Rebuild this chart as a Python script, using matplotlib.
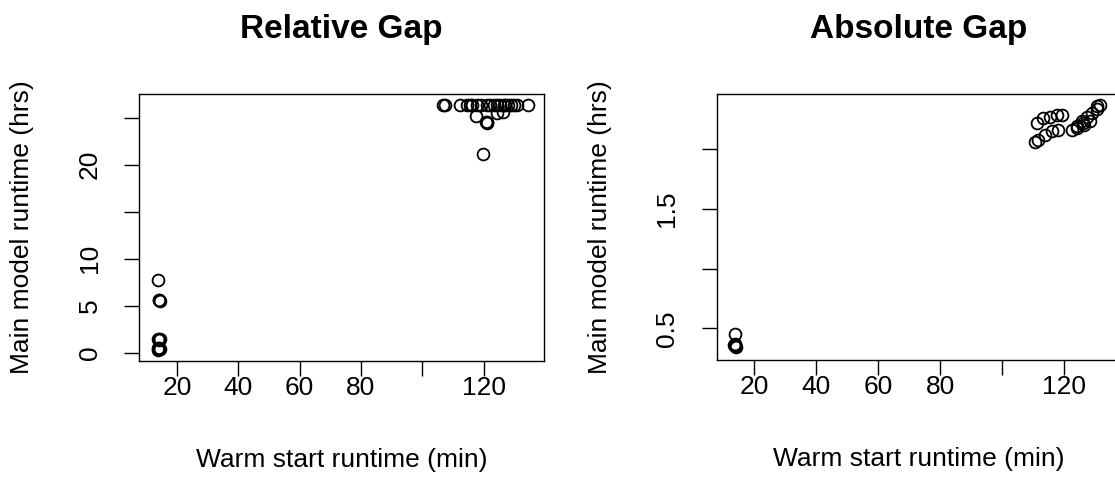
import matplotlib
matplotlib.use("Agg")
import matplotlib.pyplot as plt

plt.rcParams['font.family'] = ['Liberation Sans', 'DejaVu Sans']

# relative gap panel: warm start (min) vs main model runtime (hrs)
rel_x = [13.8, 14.2, 14.0, 14.3, 13.7, 14.1, 14.4, 13.9, 14.2, 14.0, 13.8, 14.3,
         106.6, 107.4, 112.3, 114.6, 115.4, 116.2, 117.9, 119.0, 121.0, 122.0,
         123.5, 124.5, 125.5, 126.5, 127.0, 128.0, 129.0, 130.0, 131.0, 134.5,
         117.6, 120.8, 121.0, 121.2, 124.3, 126.4, 119.9]
rel_y = [7.7, 5.6, 5.6, 5.5, 1.5, 1.4, 1.5, 0.5, 0.4, 0.5, 0.3, 0.4,
         26.3, 26.3, 26.3, 26.3, 26.3, 26.3, 26.3, 26.3, 26.3, 26.3,
         26.3, 26.3, 26.3, 26.3, 26.3, 26.3, 26.3, 26.3, 26.3, 26.3,
         25.2, 24.5, 24.4, 24.5, 25.5, 25.6, 21.1]

# absolute gap panel
abs_x = [13.8, 13.6, 13.9, 14.1, 13.7,
         111.1, 113.2, 115.4, 117.5, 119.2,
         110.5, 111.6, 113.8, 115.9, 118.1,
         122.4, 124.0, 125.6, 127.2, 128.8, 130.5, 131.5,
         124.0, 126.1, 128.3, 126.3, 130.7]
abs_y = [0.45, 0.36, 0.35, 0.34, 0.37,
         2.22, 2.26, 2.27, 2.29, 2.29,
         2.06, 2.08, 2.12, 2.15, 2.16,
         2.16, 2.19, 2.24, 2.27, 2.30, 2.34, 2.37,
         2.18, 2.22, 2.24, 2.20, 2.36]

x_ticks = [20, 40, 60, 80, 100, 120]
x_labels = ['20', '40', '60', '80', '', '120']
rel_yticks = [0, 5, 10, 15, 20, 25]
rel_ylabels = ['0', '5', '10', '', '20', '']
abs_yticks = [0.5, 1.0, 1.5, 2.0]
abs_ylabels = ['0.5', '', '1.5', '']

fig = plt.figure(figsize=(11.15, 5.01), dpi=100)
ax1 = fig.add_axes([0.1247, 0.2794, 0.3632, 0.5329])
ax2 = fig.add_axes([0.6428, 0.2814, 0.3626, 0.5310])

panels = [
    (ax1, rel_x, rel_y, 'Relative Gap', rel_yticks, rel_ylabels, (7.6, 139.7), (-0.88, 27.5)),
    (ax2, abs_x, abs_y, 'Absolute Gap', abs_yticks, abs_ylabels, (7.9, 138.3), (0.235, 2.462)),
]

for ax, xs, ys, title, yt, yl, xlim, ylim in panels:
    ax.plot(xs, ys, 'o', mfc='none', mec='black', ms=8.5, mew=1.3, ls='none', clip_on=False)
    ax.set_xlim(*xlim)
    ax.set_ylim(*ylim)
    ax.set_xticks(x_ticks)
    ax.set_xticklabels(x_labels)
    ax.set_yticks(yt)
    ax.set_yticklabels(yl, rotation=90, va='center')
    for s in ax.spines.values():
        s.set_linewidth(1.0)
    ax.tick_params(axis='both', length=11, width=1.0, labelsize=19, colors='black')
    ax.tick_params(axis='x', pad=0)
    ax.tick_params(axis='y', pad=16)
    ax.set_title(title, fontsize=24, fontweight='bold', pad=40)
    ax.set_xlabel('Warm start runtime (min)', fontsize=19, labelpad=34)
    ax.set_ylabel('Main model runtime (hrs)', fontsize=19, labelpad=31)

fig.savefig('out.png', dpi=100)
